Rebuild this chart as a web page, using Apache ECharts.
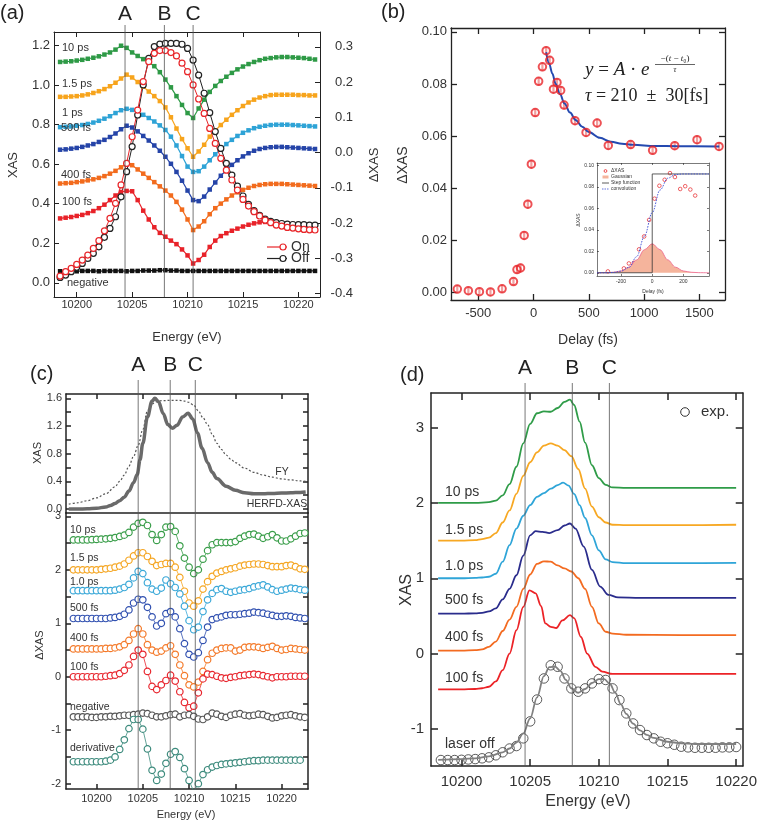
<!DOCTYPE html>
<html>
<head>
<meta charset="utf-8">
<script src="https://cdn.jsdelivr.net/npm/echarts@6/dist/echarts.min.js"></script>
<style>
  html, body { margin: 0; background: #fff; }
  #main { width: 760px; height: 821px; }
</style>
</head>
<body>
<div id="main"></div>
<script>
// ======================= data: panel (a) =======================
const energyA = [10198.5,10199,10199.5,10200,10200.5,10201,10201.5,10202,10202.5,10203,10203.5,10204,10204.5,10205,10205.5,10206,10206.5,10207,10207.5,10208,10208.5,10209,10209.5,10210,10210.5,10211,10211.5,10212,10212.5,10213,10213.5,10214,10214.5,10215,10215.5,10216,10216.5,10217,10217.5,10218,10218.5,10219,10219.5,10220,10220.5,10221,10221.5]
const dA10ps = [0.257,0.258,0.259,0.261,0.263,0.266,0.269,0.273,0.278,0.284,0.292,0.303,0.297,0.284,0.274,0.265,0.256,0.245,0.228,0.207,0.185,0.160,0.135,0.112,0.098,0.125,0.150,0.172,0.189,0.203,0.215,0.226,0.236,0.244,0.251,0.257,0.262,0.266,0.268,0.270,0.271,0.271,0.270,0.269,0.268,0.266,0.264]
const dA15ps = [0.158,0.158,0.159,0.160,0.162,0.165,0.169,0.174,0.180,0.188,0.198,0.210,0.221,0.213,0.200,0.187,0.173,0.160,0.146,0.128,0.100,0.068,0.038,0.012,-0.012,0.003,0.022,0.045,0.062,0.078,0.093,0.107,0.120,0.132,0.142,0.150,0.156,0.160,0.163,0.164,0.164,0.164,0.164,0.163,0.163,0.162,0.162]
const dA1ps = [0.072,0.073,0.074,0.076,0.078,0.081,0.085,0.090,0.096,0.103,0.112,0.120,0.124,0.121,0.115,0.107,0.098,0.088,0.077,0.064,0.045,0.020,-0.010,-0.040,-0.055,-0.053,-0.040,-0.022,-0.005,0.010,0.024,0.036,0.047,0.056,0.063,0.069,0.073,0.076,0.078,0.079,0.079,0.079,0.078,0.077,0.076,0.075,0.074]
const dA500fs = [0.008,0.009,0.011,0.013,0.016,0.020,0.024,0.030,0.036,0.044,0.054,0.066,0.076,0.071,0.060,0.047,0.034,0.020,0.005,-0.012,-0.032,-0.055,-0.080,-0.108,-0.135,-0.138,-0.125,-0.105,-0.085,-0.066,-0.050,-0.035,-0.022,-0.011,-0.002,0.005,0.010,0.013,0.015,0.016,0.016,0.015,0.014,0.013,0.012,0.011,0.010]
const dA400fs = [-0.088,-0.087,-0.086,-0.084,-0.082,-0.079,-0.076,-0.072,-0.067,-0.060,-0.052,-0.042,-0.032,-0.036,-0.048,-0.060,-0.072,-0.084,-0.096,-0.108,-0.122,-0.140,-0.162,-0.190,-0.220,-0.210,-0.195,-0.175,-0.158,-0.145,-0.133,-0.122,-0.113,-0.106,-0.100,-0.095,-0.092,-0.090,-0.089,-0.089,-0.089,-0.090,-0.091,-0.092,-0.093,-0.094,-0.095]
const dA100fs = [-0.187,-0.185,-0.183,-0.180,-0.177,-0.172,-0.166,-0.158,-0.148,-0.135,-0.122,-0.112,-0.109,-0.110,-0.135,-0.165,-0.190,-0.212,-0.228,-0.239,-0.250,-0.260,-0.275,-0.292,-0.315,-0.305,-0.290,-0.268,-0.250,-0.237,-0.229,-0.222,-0.216,-0.210,-0.205,-0.201,-0.198,-0.197,-0.198,-0.200,-0.201,-0.202,-0.203,-0.204,-0.205,-0.205,-0.206]
const dANeg = [-0.337,-0.337,-0.336,-0.337,-0.336,-0.336,-0.336,-0.337,-0.336,-0.336,-0.336,-0.336,-0.337,-0.336,-0.336,-0.335,-0.335,-0.335,-0.334,-0.334,-0.335,-0.335,-0.336,-0.336,-0.336,-0.336,-0.336,-0.336,-0.336,-0.336,-0.336,-0.336,-0.336,-0.336,-0.336,-0.336,-0.336,-0.336,-0.336,-0.336,-0.336,-0.336,-0.336,-0.336,-0.336,-0.336,-0.336]
const xasOn = [0.034,0.056,0.073,0.093,0.115,0.140,0.174,0.213,0.263,0.326,0.402,0.495,0.604,0.739,0.874,1.018,1.119,1.161,1.175,1.175,1.165,1.148,1.111,1.068,1.001,0.930,0.857,0.781,0.705,0.630,0.570,0.520,0.469,0.422,0.388,0.360,0.338,0.317,0.304,0.292,0.287,0.280,0.277,0.273,0.270,0.268,0.267]
const xasOff = [0.027,0.039,0.056,0.078,0.098,0.123,0.149,0.182,0.230,0.275,0.334,0.435,0.562,0.689,0.849,1.001,1.136,1.195,1.208,1.211,1.211,1.211,1.207,1.186,1.127,1.051,0.959,0.861,0.765,0.680,0.604,0.545,0.489,0.439,0.397,0.365,0.341,0.322,0.311,0.304,0.300,0.297,0.295,0.294,0.294,0.292,0.292]
const abcA = [10204.36, 10207.91, 10210.5]
const ticksA = [0, 0.2, 0.4, 0.6, 0.8, 1.0, 1.2]
const ticksA2 = [-0.4, -0.3, -0.2, -0.1, 0, 0.1, 0.2, 0.3]
const ticksE = [10200, 10205, 10210, 10215, 10220]

// ======================= data: panel (b) =======================
const delay = [-690,-590,-490,-390,-285,-182,-150,-118,-85,-52,-20,15,46,80,114,146,180,212,245,276,375,475,575,676,878,1077,1277,1479,1678]
const dxasB = [0.0012,0.0006,0.0002,0.0001,0.0013,0.0041,0.0087,0.0093,0.0218,0.0338,0.0492,0.0690,0.0810,0.0866,0.0928,0.0891,0.0780,0.0806,0.0775,0.0719,0.0659,0.0614,0.0650,0.0564,0.0567,0.0545,0.0563,0.0586,0.0560]
const errB = [0.0016,0.0016,0.0016,0.0016,0.0016,0.0016,0.0017,0.0017,0.0017,0.0017,0.0017,0.0017,0.0017,0.0017,0.0017,0.0017,0.0017,0.0017,0.0017,0.0017,0.0017,0.0017,0.0017,0.0017,0.0017,0.0017,0.0017,0.0017,0.0017]
const fitT = [114,140,170,200,240,280,330,380,440,500,600,700,800,900,1100,1300,1680]
const fitV = [0.0922,0.0880,0.0840,0.0800,0.0760,0.0725,0.0690,0.0662,0.0636,0.0615,0.0593,0.0578,0.0570,0.0566,0.0562,0.0561,0.0560]
const ticksBx = [-500, 0, 500, 1000, 1500]
const ticksBy = [0, 0.02, 0.04, 0.06, 0.08, 0.10]
// inset
const stepT = [-355, 0, 0, 365]
const stepV = [0, 0, 0.092, 0.092]
const gaussT = [-355,-300,-250,-200,-150,-100,-50,0,50,100,150,200,250,300,365]
const gaussV = [0,0.0001,0.0005,0.0017,0.0052,0.0120,0.0215,0.0270,0.0215,0.0120,0.0052,0.0017,0.0005,0.0001,0]
const convT = [-355,-300,-250,-200,-150,-100,-50,0,50,100,150,200,250,300,365]
const convV = [0,0,0.0003,0.0015,0.0050,0.0150,0.0340,0.0560,0.0770,0.0880,0.0915,0.0920,0.0920,0.0920,0.0920]
const ticksIx = [-200, 0, 200]

// ======================= data: panel (c) =======================
const herfd = [[10197,0.0],[10198,0.0],[10199,0.003],[10200,0.01],[10201,0.03],[10201.5,0.05],[10202,0.08],[10202.5,0.12],[10203,0.17],[10203.5,0.26],[10204,0.38],[10204.4,0.5],[10204.7,0.71],[10205,0.95],[10205.5,1.33],[10206,1.56],[10206.3,1.6],[10206.7,1.55],[10207.2,1.38],[10207.7,1.22],[10208.2,1.167],[10208.7,1.21],[10209.3,1.33],[10209.9,1.383],[10210.4,1.30],[10210.9,1.1],[10211.4,0.88],[10212,0.67],[10212.5,0.53],[10213,0.44],[10214,0.33],[10215,0.27],[10216,0.235],[10217,0.22],[10218,0.22],[10219,0.225],[10220,0.23],[10221,0.235],[10222,0.24],[10222.6,0.245]]
const fy = [[10197,0.07],[10198,0.09],[10199,0.12],[10200,0.16],[10201,0.22],[10202,0.32],[10202.5,0.40],[10203,0.49],[10203.5,0.62],[10204,0.76],[10204.5,0.92],[10205,1.15],[10205.5,1.42],[10206,1.52],[10206.5,1.55],[10207,1.565],[10208,1.57],[10209,1.57],[10209.5,1.56],[10210,1.54],[10210.5,1.5],[10211,1.42],[10211.5,1.32],[10212,1.22],[10212.5,1.08],[10213,0.95],[10213.5,0.86],[10214,0.78],[10214.5,0.72],[10215,0.67],[10216,0.59],[10217,0.53],[10218,0.49],[10219,0.46],[10220,0.435],[10221,0.42],[10222,0.405],[10222.6,0.40]]
const energyC = [10197.5,10198,10198.5,10199,10199.5,10200,10200.5,10201,10201.5,10202,10202.5,10203,10203.5,10204,10204.5,10205,10205.5,10206,10206.5,10207,10207.5,10208,10208.5,10209,10209.5,10210,10210.5,10211,10211.5,10212,10212.5,10213,10213.5,10214,10214.5,10215,10215.5,10216,10216.5,10217,10217.5,10218,10218.5,10219,10219.5,10220,10220.5,10221,10221.5,10222,10222.5]
const dC10ps = [2.56,2.56,2.56,2.56,2.565,2.57,2.575,2.58,2.59,2.605,2.625,2.65,2.70,2.80,2.87,2.89,2.83,2.66,2.55,2.66,2.80,2.81,2.72,2.45,2.22,2.05,1.93,2.00,2.20,2.36,2.47,2.51,2.51,2.51,2.51,2.53,2.59,2.63,2.66,2.67,2.63,2.59,2.62,2.66,2.60,2.54,2.54,2.58,2.63,2.68,2.69]
const dC15ps = [2.00,2.00,2.00,2.00,2.00,2.00,2.01,2.02,2.03,2.05,2.07,2.11,2.18,2.26,2.32,2.32,2.25,2.16,2.08,2.10,2.12,2.12,2.05,1.86,1.60,1.38,1.32,1.42,1.64,1.78,1.88,1.94,1.97,2.00,2.02,2.04,2.07,2.09,2.10,2.11,2.11,2.10,2.08,2.06,2.06,2.06,2.08,2.09,2.06,2.02,2.01]
const dC10psB = [1.61,1.61,1.61,1.61,1.61,1.61,1.61,1.61,1.61,1.62,1.64,1.67,1.73,1.85,1.97,1.93,1.76,1.64,1.60,1.66,1.81,1.74,1.67,1.55,1.32,1.05,0.88,0.93,1.22,1.44,1.56,1.63,1.65,1.60,1.58,1.60,1.62,1.63,1.65,1.68,1.70,1.72,1.68,1.63,1.60,1.62,1.64,1.66,1.65,1.63,1.62]
const dC500fs = [1.09,1.09,1.09,1.09,1.09,1.09,1.09,1.09,1.10,1.11,1.13,1.17,1.25,1.38,1.45,1.44,1.30,1.12,0.95,1.00,1.18,1.22,1.12,0.90,0.62,0.42,0.37,0.45,0.68,0.93,1.07,1.10,1.12,1.15,1.16,1.16,1.17,1.18,1.19,1.21,1.20,1.19,1.17,1.15,1.13,1.13,1.14,1.13,1.11,1.10,1.09]
const dC400fs = [0.52,0.52,0.52,0.52,0.52,0.52,0.52,0.53,0.53,0.54,0.56,0.60,0.68,0.80,0.90,0.80,0.60,0.50,0.46,0.48,0.54,0.58,0.42,0.22,0.02,-0.15,-0.19,-0.10,0.10,0.32,0.44,0.50,0.53,0.54,0.54,0.48,0.50,0.55,0.56,0.56,0.55,0.53,0.55,0.57,0.53,0.50,0.51,0.53,0.52,0.51,0.50]
const dC100fs = [0.00,0.00,0.00,0.00,0.00,0.00,0.00,0.01,0.02,0.03,0.06,0.12,0.22,0.38,0.50,0.42,0.10,-0.18,-0.24,-0.15,-0.07,0.03,-0.08,-0.28,-0.48,-0.58,-0.55,-0.30,-0.04,0.05,0.04,0.01,-0.02,-0.03,-0.01,0.00,0.02,0.03,0.04,0.05,0.04,0.02,0.00,-0.02,0.00,0.00,0.00,0.01,0.01,0.01,0.01]
const dCNeg = [-0.75,-0.75,-0.75,-0.75,-0.76,-0.76,-0.75,-0.75,-0.74,-0.74,-0.73,-0.72,-0.72,-0.71,-0.70,-0.68,-0.69,-0.72,-0.75,-0.75,-0.73,-0.71,-0.70,-0.75,-0.72,-0.71,-0.74,-0.79,-0.80,-0.75,-0.68,-0.70,-0.74,-0.76,-0.72,-0.70,-0.69,-0.72,-0.73,-0.72,-0.70,-0.71,-0.74,-0.77,-0.76,-0.73,-0.72,-0.71,-0.73,-0.75,-0.76]
const dCDeriv = [-1.59,-1.59,-1.59,-1.59,-1.59,-1.59,-1.59,-1.58,-1.56,-1.50,-1.36,-1.18,-0.97,-0.80,-0.80,-0.98,-1.35,-1.75,-1.94,-1.82,-1.62,-1.45,-1.40,-1.51,-1.72,-1.94,-2.15,-2.00,-1.83,-1.74,-1.69,-1.66,-1.64,-1.63,-1.62,-1.61,-1.60,-1.59,-1.58,-1.57,-1.57,-1.56,-1.56,-1.56,-1.56,-1.56,-1.56,-1.56,-1.56,-1.56,null]
const abcC = [10204.5, 10207.96, 10210.67]
const ticksCt = [0, 0.2, 0.4, 0.6, 0.8, 1.0, 1.2, 1.4, 1.6]
const labelsCt = [0, 0.4, 0.8, 1.2, 1.6]
const ticksCb = [-2, -1.5, -1, -0.5, 0, 0.5, 1, 1.5, 2, 2.5, 3]
const labelsCb = [-2, -1, 0, 1, 2, 3]

// ======================= data: panel (d) =======================
const dD10ps = [[10198.3,2.0],[10200,2.0],[10201,2.0],[10202,2.01],[10202.5,2.03],[10203,2.10],[10203.5,2.25],[10204,2.48],[10204.5,2.79],[10205,3.05],[10205.5,3.19],[10206,3.215],[10206.5,3.21],[10207,3.26],[10207.5,3.34],[10207.9,3.37],[10208.2,3.30],[10208.6,3.08],[10209,2.80],[10209.5,2.50],[10210,2.33],[10210.5,2.24],[10211,2.205],[10212,2.20],[10216,2.20],[10220,2.20]]
const dD15ps = [[10198.3,1.5],[10200,1.5],[10201,1.505],[10201.5,1.52],[10202,1.54],[10202.5,1.60],[10203,1.74],[10203.5,1.90],[10204,2.12],[10204.5,2.36],[10205,2.54],[10205.5,2.67],[10206,2.76],[10206.5,2.79],[10207,2.76],[10207.5,2.70],[10208,2.62],[10208.5,2.45],[10209,2.19],[10209.5,1.95],[10210,1.81],[10210.5,1.74],[10211,1.71],[10212,1.705],[10216,1.705],[10220,1.71]]
const dD10psB = [[10198.3,1.0],[10200,1.0],[10201,1.005],[10201.5,1.01],[10202,1.02],[10202.5,1.06],[10203,1.22],[10203.5,1.44],[10204,1.66],[10204.5,1.83],[10205,1.97],[10205.5,2.08],[10206,2.13],[10206.5,2.19],[10207,2.235],[10207.4,2.27],[10207.8,2.23],[10208.2,2.12],[10208.6,1.97],[10209,1.80],[10209.5,1.57],[10210,1.37],[10210.5,1.25],[10211,1.215],[10212,1.20],[10216,1.20],[10220,1.205]]
const dD500fs = [[10198.3,0.53],[10200,0.53],[10201,0.535],[10201.5,0.54],[10202,0.56],[10202.5,0.60],[10203,0.72],[10203.5,0.86],[10204,1.04],[10204.5,1.30],[10205,1.57],[10205.4,1.625],[10205.9,1.615],[10206.4,1.60],[10207,1.64],[10207.5,1.70],[10207.9,1.727],[10208.3,1.66],[10208.9,1.42],[10209.5,1.11],[10210.1,0.89],[10210.7,0.78],[10211.4,0.745],[10213,0.74],[10216,0.74],[10220,0.74]]
const dD400fs = [[10198.3,0.04],[10200,0.04],[10201,0.045],[10201.5,0.055],[10202,0.09],[10202.5,0.16],[10203,0.30],[10203.5,0.45],[10204,0.62],[10204.5,0.86],[10205,1.05],[10205.5,1.19],[10206,1.225],[10206.5,1.22],[10207,1.17],[10207.5,1.13],[10208,1.09],[10208.5,1.00],[10209,0.86],[10209.5,0.62],[10210,0.40],[10210.5,0.29],[10211,0.265],[10212,0.25],[10216,0.245],[10220,0.245]]
const dD100fs = [[10198.3,-0.475],[10200,-0.475],[10201,-0.47],[10201.5,-0.46],[10202,-0.44],[10202.5,-0.37],[10203,-0.22],[10203.5,0.0],[10204,0.31],[10204.5,0.62],[10204.95,0.84],[10205.4,0.80],[10205.8,0.63],[10206.1,0.40],[10206.5,0.355],[10206.9,0.34],[10207.35,0.44],[10207.9,0.51],[10208.2,0.47],[10208.7,0.22],[10209.15,0.0],[10209.75,-0.175],[10210.25,-0.24],[10211,-0.27],[10214,-0.27],[10220,-0.27]]
const energyOff = [10198.5,10199,10199.5,10200,10200.5,10201,10201.5,10202,10202.5,10203,10203.5,10204,10204.5,10205,10205.5,10206,10206.5,10207,10207.5,10208,10208.5,10209,10209.5,10210,10210.5,10211,10211.5,10212,10212.5,10213,10213.5,10214,10214.5,10215,10215.5,10216,10216.5,10217,10217.5,10218,10218.5,10219,10219.5,10220]
const laserOff = [-1.413,-1.413,-1.413,-1.41,-1.405,-1.40,-1.39,-1.377,-1.35,-1.31,-1.26,-1.227,-1.125,-0.90,-0.61,-0.33,-0.155,-0.175,-0.33,-0.462,-0.506,-0.462,-0.396,-0.338,-0.35,-0.462,-0.617,-0.794,-0.927,-1.015,-1.081,-1.125,-1.17,-1.19,-1.21,-1.236,-1.245,-1.25,-1.25,-1.25,-1.25,-1.245,-1.245,-1.24]
const laserOffFit = [[10198.3,-1.41],[10200,-1.40],[10201,-1.39],[10202,-1.365],[10203,-1.31],[10203.5,-1.26],[10204,-1.18],[10204.5,-1.06],[10205,-0.86],[10205.5,-0.58],[10206,-0.30],[10206.4,-0.18],[10206.8,-0.17],[10207.2,-0.23],[10207.6,-0.35],[10208,-0.46],[10208.5,-0.52],[10209,-0.47],[10209.5,-0.39],[10210,-0.34],[10210.4,-0.34],[10210.8,-0.40],[10211.2,-0.52],[10211.6,-0.67],[10212,-0.80],[10212.5,-0.93],[10213,-1.02],[10213.5,-1.08],[10214,-1.12],[10215,-1.17],[10216,-1.19],[10217,-1.20],[10218,-1.20],[10220,-1.20]]
const abcD = [10204.63, 10208.07, 10210.77]
const ticksD = [-1, 0, 1, 2, 3]

// ======================= chart =======================
const FONT = '"Liberation Sans", Arial, Helvetica, sans-serif'
const SERIF = '"Liberation Serif", "DejaVu Serif", serif'
const INK = '#333'

const chart = echarts.init(document.getElementById('main'))

const pairs = (xs, ys) => xs.map((x, i) => [x, ys[i]])

function valAxis(grid, position, min, max, ticks, labels, o) {
  o = o || {}
  return {
    type: 'value', gridIndex: grid, position, min, max,
    axisLine: { show: true, onZero: false, lineStyle: { color: '#222', width: o.lw || 1 } },
    axisTick: { show: ticks.length > 0, inside: true, length: o.tick || 5, customValues: ticks, lineStyle: { color: '#222', width: o.lw || 1 } },
    axisLabel: labels
      ? { show: true, customValues: labels, formatter: o.fmt || (v => String(v)), fontSize: o.size, color: INK, fontFamily: FONT, margin: o.margin, align: o.align }
      : { show: false },
    splitLine: { show: false },
  }
}

// markers with a thin connecting line
function marked(xi, yi, data, color, symbol, size, filled, lw) {
  return {
    type: 'line', xAxisIndex: xi, yAxisIndex: yi, data,
    symbol, symbolSize: size,
    itemStyle: filled ? { color } : { color: '#fff', borderColor: color, borderWidth: 1.2 },
    lineStyle: { color, width: lw },
    animation: false,
  }
}

function smoothLine(xi, yi, data, color, width, extra) {
  return Object.assign({
    type: 'line', xAxisIndex: xi, yAxisIndex: yi, data,
    symbol: 'none', smooth: 0.35, smoothMonotone: 'x',
    lineStyle: { color, width },
  }, extra || {})
}

const series = []

// (a) delay traces on right axis
;[
  [dA10ps, '#2e9a46'], [dA15ps, '#f7a41c'], [dA1ps, '#2ea3d6'],
  [dA500fs, '#2544a8'], [dA400fs, '#f26b1d'], [dA100fs, '#e82229'], [dANeg, '#111'],
].forEach(([ys, c]) => series.push(marked(0, 1, pairs(energyA, ys), c, 'rect', 4.5, true, 1.2)))
series.push(marked(0, 0, pairs(energyA, xasOff), '#222', 'circle', 6, false, 1))
series.push(marked(0, 0, pairs(energyA, xasOn), '#e8262a', 'circle', 6, false, 1))

// (b)
series.push({
  type: 'custom', xAxisIndex: 2, yAxisIndex: 2,
  data: delay.map((t, i) => [t, dxasB[i], errB[i]]),
  encode: { x: 0, y: 1 },
  renderItem: (params, api) => {
    const a = api.coord([api.value(0), api.value(1) - api.value(2)])
    const b = api.coord([api.value(0), api.value(1) + api.value(2)])
    return { type: 'line', shape: { x1: a[0], y1: a[1], x2: b[0], y2: b[1] }, style: { stroke: '#f0a0a0', lineWidth: 2.2 } }
  },
  z: 2,
})
series.push(smoothLine(2, 2, pairs(fitT, fitV), '#2449b0', 2, { z: 3 }))
series.push({
  type: 'scatter', xAxisIndex: 2, yAxisIndex: 2, data: pairs(delay, dxasB),
  symbol: 'circle', symbolSize: 7.5,
  itemStyle: { color: 'rgba(255,255,255,0)', borderColor: '#e8262a', borderWidth: 2 }, z: 4,
})
// inset
series.push(smoothLine(4, 4, pairs(gaussT, gaussV), '#ec5f86', 0.8, { areaStyle: { color: '#f5b49c', opacity: 1 } }))
series.push({ type: 'line', xAxisIndex: 4, yAxisIndex: 4, data: pairs(stepT, stepV), symbol: 'none', lineStyle: { color: '#333', width: 0.8 } })
series.push(smoothLine(4, 4, pairs(convT, convV), '#3b4fd6', 0.9, { lineStyle: { color: '#3b4fd6', width: 0.9, type: [1.6, 1.2] } }))
series.push({
  type: 'scatter', xAxisIndex: 4, yAxisIndex: 4,
  data: pairs(delay, dxasB).filter(p => p[0] > -355 && p[0] < 365),
  symbol: 'circle', symbolSize: 3.6,
  itemStyle: { color: '#fff', borderColor: '#e8262a', borderWidth: 0.9 },
})

// (c) top
series.push(smoothLine(6, 6, fy, '#555', 1.2, { lineStyle: { color: '#555', width: 1.2, type: [2, 2] } }))
series.push(smoothLine(6, 6, herfd, '#6a6a6a', 3.5))
// (c) bottom
;[
  [dC10ps, '#3a9e4a'], [dC15ps, '#f5a623'], [dC10psB, '#3aa8d8'], [dC500fs, '#3050b0'],
  [dC400fs, '#f47a2a'], [dC100fs, '#e8262e'], [dCNeg, '#555'], [dCDeriv, '#3d8b7d'],
].forEach(([ys, c]) => series.push(marked(8, 8, pairs(energyC, ys), c, 'circle', 6.5, false, 0.8)))

// (d)
;[
  [dD10ps, '#2f9c48'], [dD15ps, '#f7a823'], [dD10psB, '#2fa5d8'],
  [dD500fs, '#2a2c8c'], [dD400fs, '#f36b21'], [dD100fs, '#ec2327'],
].forEach(([d, c]) => series.push(smoothLine(9, 10, d, c, 1.8)))
series.push(smoothLine(9, 10, laserOffFit, '#808080', 1.8))
series.push({
  type: 'scatter', xAxisIndex: 9, yAxisIndex: 10, data: pairs(energyOff, laserOff),
  symbol: 'circle', symbolSize: 9.5,
  itemStyle: { color: 'rgba(255,255,255,0)', borderColor: '#333', borderWidth: 1 },
})

const option = {
  animation: false,
  backgroundColor: '#fff',
  grid: [
    { left: 54, top: 32, width: 266, height: 265 },
    { left: 451, top: 28, width: 274, height: 272 },
    { left: 597, top: 163, width: 112, height: 113 },
    { left: 66, top: 394, width: 242, height: 119 },
    { left: 66, top: 513, width: 242, height: 276 },
    { left: 431, top: 393, width: 314, height: 373 },
  ],
  xAxis: [
    valAxis(0, 'bottom', 10197.95, 10221.95, ticksE, ticksE, { size: 11, margin: 2 }),
    valAxis(0, 'top', 10197.95, 10221.95, ticksE, null),
    valAxis(1, 'bottom', -747, 1732, ticksBx, ticksBx, { size: 13, margin: 7, lw: 1.3, tick: 6 }),
    valAxis(1, 'top', -747, 1732, ticksBx, null, { lw: 1.3, tick: 6 }),
    valAxis(2, 'bottom', -355, 365, ticksIx, ticksIx, { size: 5, margin: 3, lw: 0.6, tick: 2 }),
    valAxis(2, 'top', -355, 365, ticksIx, null, { lw: 0.6, tick: 2 }),
    valAxis(3, 'bottom', 10196.7, 10222.85, [], null, { lw: 1.5 }),
    valAxis(3, 'top', 10196.7, 10222.85, ticksE, null, { lw: 1.5 }),
    valAxis(4, 'bottom', 10196.7, 10222.85, ticksE, ticksE, { size: 11, margin: 4, lw: 1.5 }),
    valAxis(5, 'bottom', 10197.78, 10220.48, ticksE, ticksE, { size: 15, margin: 8, lw: 1.5, tick: 7 }),
    valAxis(5, 'top', 10197.78, 10220.48, ticksE, null, { lw: 1.5, tick: 7 }),
  ],
  yAxis: [
    valAxis(0, 'left', -0.072, 1.269, ticksA, ticksA, { fmt: v => v.toFixed(1), size: 13, margin: 4 }),
    valAxis(0, 'right', -0.41, 0.342, ticksA2, ticksA2, { fmt: v => v.toFixed(1), size: 13, margin: 33, align: 'right' }),
    valAxis(1, 'left', -0.003, 0.1015, ticksBy, ticksBy, { fmt: v => v.toFixed(2), size: 13, margin: 4, lw: 1.3, tick: 6 }),
    valAxis(1, 'right', -0.003, 0.1015, ticksBy, null, { lw: 1.3, tick: 6 }),
    valAxis(2, 'left', -0.003, 0.1022, ticksBy, ticksBy, { fmt: v => v.toFixed(2), size: 5, margin: 3, lw: 0.6, tick: 2 }),
    valAxis(2, 'right', -0.003, 0.1022, ticksBy, null, { lw: 0.6, tick: 2 }),
    valAxis(3, 'left', -0.058, 1.662, ticksCt, labelsCt, { fmt: v => v.toFixed(1), size: 11, margin: 4, lw: 1.5 }),
    valAxis(3, 'right', -0.058, 1.662, ticksCt, null, { lw: 1.5 }),
    valAxis(4, 'left', -2.1, 3.064, ticksCb, labelsCb, { size: 11, margin: 5, lw: 1.5 }),
    valAxis(4, 'right', -2.1, 3.064, ticksCb, null, { lw: 1.5 }),
    valAxis(5, 'left', -1.492, 3.459, ticksD, ticksD, { size: 15, margin: 7, lw: 1.5, tick: 7 }),
    valAxis(5, 'right', -1.492, 3.459, ticksD, null, { lw: 1.5, tick: 7 }),
  ],
  series,
}

chart.setOption(option)

// ======================= text and guide lines =======================
const g = []
function txt(x, y, s, size, align, rot, color) {
  return {
    type: 'text', x, y, rotation: rot || 0, z: 100,
    style: { text: s, font: size + 'px ' + FONT, fill: color || INK, align: align || 'left', verticalAlign: 'middle', textAlign: align || 'left', textVerticalAlign: 'middle' },
  }
}
function abc(xAxisIndex, vals, y0, y1, ly) {
  vals.forEach((v, i) => {
    const x = chart.convertToPixel({ xAxisIndex }, v)
    g.push({ type: 'line', z: 90, shape: { x1: x, y1: y0, x2: x, y2: y1 }, style: { stroke: '#555', lineWidth: 0.8 } })
    g.push(txt(x, ly, 'ABC'[i], 21, 'center', 0, '#222'))
  })
}
abc(0, abcA, 25, 297, 14)
abc(8, abcC, 380, 789, 365)
abc(9, abcD, 383, 766, 368)

const UP = Math.PI / 2
// (a)
g.push(txt(0, 13, '(a)', 20, 'left', 0, '#222'))
g.push(txt(13, 165, 'XAS', 13, 'center', UP))
g.push(txt(374, 165, 'ΔXAS', 13, 'center', UP))
g.push(txt(187, 337, 'Energy (eV)', 13, 'center'))
;[['10 ps', 62, 48], ['1.5 ps', 62, 84], ['1 ps', 62, 113], ['500 fs', 61, 128], ['400 fs', 61, 175], ['100 fs', 62, 202], ['negative', 67, 283]]
  .forEach(([s, x, y]) => g.push(txt(x, y, s, 11)))
;[['On', '#e8262a', 247], ['Off', '#222', 258.5]].forEach(([s, c, y]) => {
  g.push({ type: 'line', z: 100, shape: { x1: 267, y1: y, x2: 287, y2: y }, style: { stroke: c, lineWidth: 1.2 } })
  g.push({ type: 'circle', z: 101, shape: { cx: 283, cy: y, r: 3 }, style: { fill: '#fff', stroke: c, lineWidth: 1.2 } })
  g.push(txt(291, y, s, 14))
})

// (b)
g.push(txt(381, 12, '(b)', 20, 'left', 0, '#222'))
g.push(txt(403, 165, 'ΔXAS', 14, 'center', UP))
g.push(txt(588, 340, 'Delay (fs)', 14, 'center'))
g.push({
  type: 'text', x: 585, y: 70, z: 100,
  style: { text: '{i|y} = {i|A} · {i|e}', fontFamily: SERIF, fontSize: 19, fill: '#222', verticalAlign: 'middle', textVerticalAlign: 'middle',
    rich: { i: { fontStyle: 'italic', fontFamily: SERIF, fontSize: 19, fill: '#222' } } },
})
g.push({
  type: 'text', x: 675, y: 59, z: 100,
  style: { text: '−({i|t} − {i|t}₀)', fontFamily: SERIF, fontSize: 9, fill: '#222', align: 'center', textAlign: 'center', verticalAlign: 'middle', textVerticalAlign: 'middle',
    rich: { i: { fontStyle: 'italic', fontFamily: SERIF, fontSize: 9, fill: '#222' } } },
})
g.push({ type: 'line', z: 100, shape: { x1: 655, y1: 64.5, x2: 695, y2: 64.5 }, style: { stroke: '#222', lineWidth: 0.7 } })
g.push({
  type: 'text', x: 675, y: 70, z: 100,
  style: { text: 'τ', font: 'italic 8px ' + SERIF, fill: '#222', align: 'center', textAlign: 'center', verticalAlign: 'middle', textVerticalAlign: 'middle' },
})
g.push({
  type: 'text', x: 585, y: 96, z: 100,
  style: { text: '{i|τ} = 210  ±  30[fs]', fontFamily: SERIF, fontSize: 18, fill: '#222', verticalAlign: 'middle', textVerticalAlign: 'middle',
    rich: { i: { fontStyle: 'italic', fontFamily: SERIF, fontSize: 18, fill: '#222' } } },
})
// inset texts and legend
g.push(txt(579, 220, 'ΔXAS', 5, 'center', UP))
g.push(txt(653, 292, 'Delay (fs)', 5, 'center'))
g.push({ type: 'circle', z: 101, shape: { cx: 605.5, cy: 171, r: 1.4 }, style: { fill: '#fff', stroke: '#e8262a', lineWidth: 0.8 } })
g.push({ type: 'rect', z: 101, shape: { x: 602.5, y: 175.5, width: 6, height: 3 }, style: { fill: '#f5b49c' } })
g.push({ type: 'line', z: 101, shape: { x1: 602, y1: 183, x2: 609, y2: 183 }, style: { stroke: '#333', lineWidth: 0.8 } })
g.push({ type: 'line', z: 101, shape: { x1: 602, y1: 189, x2: 609, y2: 189 }, style: { stroke: '#3b4fd6', lineWidth: 0.8, lineDash: [1.5, 1] } })
;[['ΔXAS', 171], ['Gaussian', 177], ['Step function', 183], ['convolution', 189]].forEach(([s, y]) => g.push(txt(611, y, s, 5)))

// (c)
g.push(txt(30, 374, '(c)', 20, 'left', 0, '#222'))
g.push(txt(38, 453, 'XAS', 11, 'center', UP))
g.push(txt(40, 645, 'ΔXAS', 11, 'center', UP))
g.push(txt(186, 815, 'Energy (eV)', 11, 'center'))
g.push(txt(282, 472, 'FY', 10.5, 'center'))
g.push(txt(277, 504, 'HERFD-XAS', 10.5, 'center'))
;[['10 ps', 530], ['1.5 ps', 558], ['1.0 ps', 582], ['500 fs', 608], ['400 fs', 638], ['100 fs', 667], ['negative', 707], ['derivative', 748]]
  .forEach(([s, y]) => g.push(txt(70, y, s, 10.5)))

// (d)
g.push(txt(400, 375, '(d)', 20, 'left', 0, '#222'))
g.push(txt(407, 590, 'XAS', 16, 'center', UP))
g.push(txt(588, 802, 'Energy (eV)', 16, 'center'))
;[['10 ps', 492], ['1.5 ps', 530], ['1.0 ps', 566], ['500 fs', 600], ['400 fs', 637], ['100 fs', 678], ['laser off', 744]]
  .forEach(([s, y]) => g.push(txt(445, y, s, 14)))
g.push({ type: 'circle', z: 101, shape: { cx: 685, cy: 412, r: 4.3 }, style: { fill: '#fff', stroke: '#333', lineWidth: 1 } })
g.push(txt(701, 412, 'exp.', 15))

chart.setOption({ graphic: { elements: g } })
</script>
</body>
</html>
